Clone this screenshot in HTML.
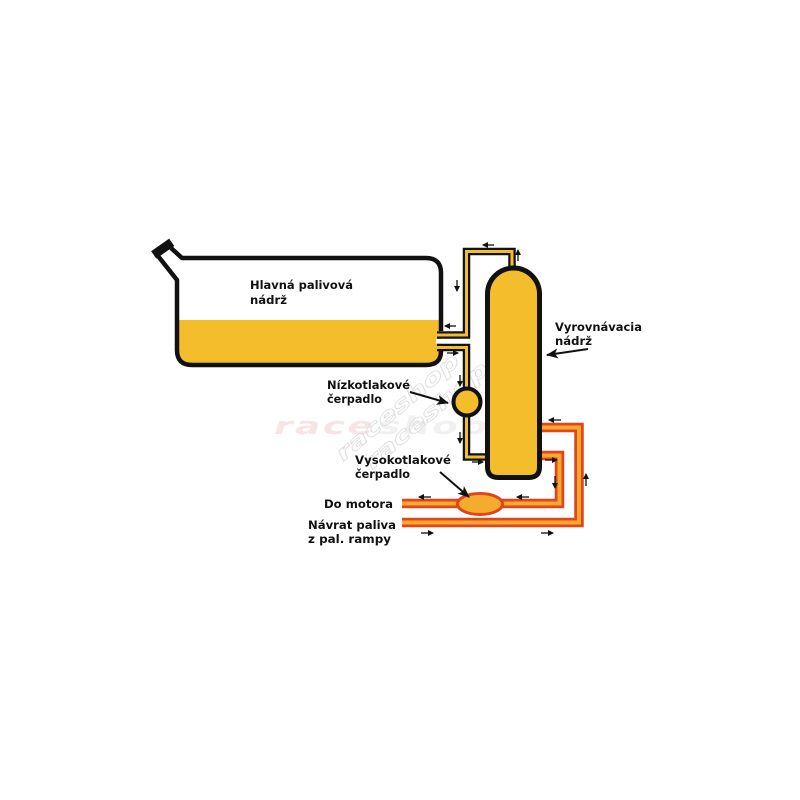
<!DOCTYPE html>
<html>
<head>
<meta charset="utf-8">
<style>
  html,body{margin:0;padding:0;background:#fff;}
  svg{display:block;}
  .lbl{font-family:"DejaVu Sans","Liberation Sans",sans-serif;font-weight:bold;font-size:11.5px;fill:#111;}
</style>
</head>
<body>
<svg width="800" height="800" viewBox="0 0 800 800" xmlns="http://www.w3.org/2000/svg">
  <defs>
    <marker id="ah" markerUnits="userSpaceOnUse" markerWidth="7" markerHeight="7" refX="5" refY="3" orient="auto">
      <path d="M0,0 L6,3 L0,6 z" fill="#111"/>
    </marker>
    <marker id="ahb" markerUnits="userSpaceOnUse" markerWidth="14" markerHeight="12" refX="11" refY="5" orient="auto">
      <path d="M0,0 L12,5 L0,10 L3,5 z" fill="#111"/>
    </marker>
  </defs>

  <rect width="800" height="800" fill="#fff"/>

  <!-- watermark -->
  <g font-family="DejaVu Sans, sans-serif" font-style="italic" font-weight="bold">
    <text x="0" y="0" font-size="30" fill="#f8e4e4" letter-spacing="2" transform="translate(274,434) scale(1.25,0.8)">race</text>
    <text x="0" y="0" font-size="30" fill="#f1f1f1" letter-spacing="2" transform="translate(378,434) scale(1.25,0.8)">shop</text>
    <text x="492" y="433" font-size="14" fill="#e6e6e6">.sk</text>
    <text x="0" y="0" font-size="26" fill="none" stroke="#dedede" stroke-width="1" transform="translate(343,462) rotate(-40) scale(1.15,0.8)">raceshop</text>
    <text x="0" y="0" font-size="26" fill="none" stroke="#dedede" stroke-width="1" transform="translate(372,470) rotate(-40) scale(1.15,0.8)">raceshop</text>
  </g>

  <!-- ===== Red/orange high pressure lines ===== -->
  <g fill="none" stroke-linejoin="miter" stroke-linecap="butt">
    <path d="M535,427.5 L579,427.5 L579,522.5 L402,522.5" stroke="#e4441d" stroke-width="9.5"/>
    <path d="M535,427.5 L579,427.5 L579,522.5 L402,522.5" stroke="#f7aa2b" stroke-width="4"/>
    <path d="M535,455.5 L559.5,455.5 L559.5,503.5 L402,503.5" stroke="#e4441d" stroke-width="9.5"/>
    <path d="M535,455.5 L559.5,455.5 L559.5,503.5 L402,503.5" stroke="#f7aa2b" stroke-width="4"/>
  </g>
  <!-- high pressure pump -->
  <ellipse cx="480" cy="504" rx="22.5" ry="10.5" fill="#f4ac2c" stroke="#e2431c" stroke-width="3"/>

  <!-- ===== Main tank ===== -->
  <!-- fuel -->
  <path d="M177,320 L441,320 L441,350 Q441,365 426,365 L192,365 Q177,365 177,350 Z" fill="#f4bd2b"/>
  <!-- outline -->
  <path d="M158,256 L177,280 L177,350 Q177,365 192,365 L426,365 Q441,365 441,351
           M441,331 L441,273 Q441,258 426,258 L182,258 L171,248"
        fill="none" stroke="#111" stroke-width="4.5" stroke-linejoin="round"/>
  <!-- filler cap -->
  <rect x="152" y="244" width="22" height="9" fill="#111" transform="rotate(-35 163 249)"/>

  <!-- ===== Yellow low pressure lines ===== -->
  <g fill="none" stroke-linejoin="miter" stroke-linecap="butt">
    <path d="M512,270 L512,251.5 L466.5,251.5 L466.5,335 L437,335" stroke="#111" stroke-width="7.5"/>
    <path d="M512,270 L512,251.5 L466.5,251.5 L466.5,335 L437,335" stroke="#f4bd2b" stroke-width="3"/>
    <path d="M437,347.5 L466.5,347.5 L466.5,457 L490,457" stroke="#111" stroke-width="7.5"/>
    <path d="M437,347.5 L466.5,347.5 L466.5,457 L490,457" stroke="#f4bd2b" stroke-width="3"/>
  </g>
  <!-- gap between pipes at main tank -->
  <rect x="436" y="339" width="27" height="4.5" fill="#fff"/>

  <!-- low pressure pump -->
  <circle cx="467" cy="402" r="13.5" fill="#f4bd2b" stroke="#111" stroke-width="4"/>

  <!-- ===== Vertical surge tank ===== -->
  <path d="M487.5,294 A26,26 0 0 1 539.5,294 L539.5,467 Q539.5,477.5 529,477.5 L498,477.5 Q487.5,477.5 487.5,467 Z"
        fill="#f4bd2b" stroke="#111" stroke-width="5"/>

  <!-- ===== small flow arrows ===== -->
  <g stroke="#111" stroke-width="1.3" fill="none" marker-end="url(#ah)">
    <line x1="494" y1="245" x2="483" y2="245"/>
    <line x1="518" y1="261" x2="518" y2="250"/>
    <line x1="457" y1="280" x2="457" y2="291"/>
    <line x1="456" y1="326" x2="445" y2="326"/>
    <line x1="447" y1="353" x2="458" y2="353"/>
    <line x1="460" y1="375" x2="460" y2="386"/>
    <line x1="460" y1="432" x2="460" y2="443"/>
    <line x1="472" y1="462" x2="483" y2="462"/>
    <line x1="561" y1="420" x2="549" y2="420"/>
    <line x1="545" y1="460" x2="557" y2="460"/>
    <line x1="555" y1="476" x2="555" y2="488"/>
    <line x1="586" y1="486" x2="586" y2="474"/>
    <line x1="529" y1="497" x2="517" y2="497"/>
    <line x1="431" y1="497" x2="419" y2="497"/>
    <line x1="421" y1="533" x2="433" y2="533"/>
    <line x1="541" y1="533" x2="553" y2="533"/>
  </g>

  <!-- ===== pointer arrows ===== -->
  <g stroke="#111" stroke-width="2" fill="none" marker-end="url(#ahb)">
    <line x1="588" y1="349" x2="547" y2="355"/>
    <line x1="410" y1="392" x2="448" y2="403"/>
    <line x1="440" y1="472" x2="469" y2="497"/>
  </g>

  <!-- ===== labels ===== -->
  <text class="lbl" x="250" y="289" textLength="103" lengthAdjust="spacingAndGlyphs">Hlavná palivová</text>
  <text class="lbl" x="250" y="304" textLength="37" lengthAdjust="spacingAndGlyphs">nádrž</text>

  <text class="lbl" x="555" y="331" textLength="87" lengthAdjust="spacingAndGlyphs">Vyrovnávacia</text>
  <text class="lbl" x="555" y="345" textLength="37" lengthAdjust="spacingAndGlyphs">nádrž</text>

  <text class="lbl" x="327" y="389" textLength="83" lengthAdjust="spacingAndGlyphs">Nízkotlakové</text>
  <text class="lbl" x="327" y="403" textLength="55" lengthAdjust="spacingAndGlyphs">čerpadlo</text>

  <text class="lbl" x="355" y="464" textLength="96" lengthAdjust="spacingAndGlyphs">Vysokotlakové</text>
  <text class="lbl" x="355" y="478" textLength="55" lengthAdjust="spacingAndGlyphs">čerpadlo</text>

  <text class="lbl" x="324" y="508" textLength="69" lengthAdjust="spacingAndGlyphs">Do motora</text>

  <text class="lbl" x="308" y="529" textLength="88" lengthAdjust="spacingAndGlyphs">Návrat paliva</text>
  <text class="lbl" x="308" y="543" textLength="83" lengthAdjust="spacingAndGlyphs">z pal. rampy</text>
</svg>
</body>
</html>
